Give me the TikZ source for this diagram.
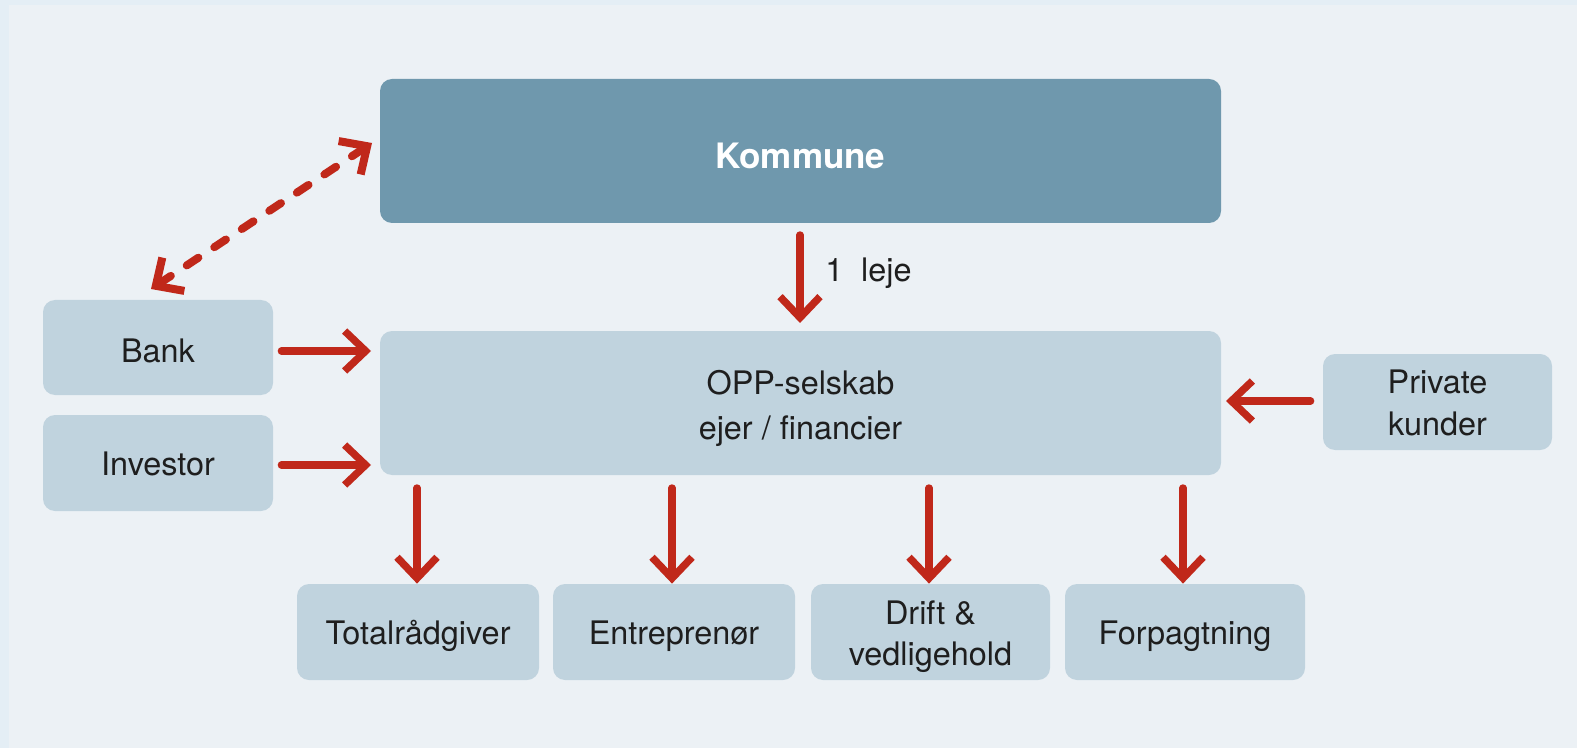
\documentclass[tikz,border=0pt]{standalone}
\usepackage{fontspec}
\setmainfont{TeX Gyre Heros}
\usetikzlibrary{arrows.meta}
\definecolor{bgout}{HTML}{E4EEF5}
\definecolor{bgin}{HTML}{ECF1F5}
\definecolor{dark}{HTML}{6F98AD}
\definecolor{light}{HTML}{C0D3DE}
\definecolor{arr}{HTML}{C0281A}
\definecolor{txt}{HTML}{1E1E1E}
\newcommand{\low}[2]{\raisebox{-#1}[\height][\depth]{#2}}
\tikzset{
  box/.style={fill=light, rounded corners=6pt, inner sep=0pt, text=txt, font=\fontsize{16.2}{21}\selectfont, align=center},
  darkbox/.style={fill=dark, rounded corners=6pt, inner sep=0pt, text=white, font=\fontsize{17.5}{21}\selectfont\bfseries, align=center},
  redarrow/.style={draw=arr, line width=3.7pt, line cap=round, -{Straight Barb[length=10.5pt,width=20pt,line width=3.7pt]}},
  dasharrow/.style={draw=arr, line width=4pt, line cap=round, dash pattern=on 7pt off 9.5pt, {Straight Barb[length=10.5pt,width=20pt,line width=4pt]}-{Straight Barb[length=10.5pt,width=20pt,line width=4pt]}},
}
\newcommand{\bx}[6]{\node[#1, minimum width={(#4-#2)*0.5pt}, minimum height={(#5-#3)*0.5pt}] (#6) at ({(#2+#4)/2*0.5pt},{-(#3+#5)/2*0.5pt})}
\begin{document}
\begin{tikzpicture}[x=0.5pt,y=-0.5pt]
\useasboundingbox (0,0) rectangle (1577,748);
\fill[bgout] (0,0) rectangle (1577,748);
\fill[bgin] (9,5) rectangle (1577,748);
\bx{darkbox}{380}{79}{1221}{223}{kom} {\low{2.5pt}{Kommune}};
\bx{box}{380}{331}{1221}{475}{opp} {\low{2.5pt}{\parbox{10cm}{\centering\fontsize{16.2}{22.5}\selectfont OPP-selskab\\ejer / financier}}};
\bx{box}{43}{300}{273}{395}{bank} {\low{1.5pt}{Bank}};
\bx{box}{43}{415}{273}{511}{inv} {\low{0.5pt}{Investor}};
\bx{box}{1323}{354}{1552}{450}{priv} {\low{0.5pt}{\parbox{4cm}{\centering\fontsize{16.2}{21}\selectfont Private\\kunder}}};
\bx{box}{297}{584}{539}{680}{tot} {\low{2pt}{Totalrådgiver}};
\bx{box}{553}{584}{795}{680}{ent} {\low{2pt}{Entreprenør}};
\bx{box}{811}{584}{1050}{680}{drift} {\low{2.5pt}{\parbox{4cm}{\centering\fontsize{16.2}{20.5}\selectfont Drift \&\\vedligehold}}};
\bx{box}{1065}{584}{1305}{680}{forp} {\low{2pt}{Forpagtning}};
% connectors
\coordinate (k1) at (800,235);
\coordinate (k2) at (800,323);
\draw[redarrow] (k1) -- (k2);
\node[anchor=west, text=txt, font=\fontsize{16.2}{20}\selectfont, inner sep=0pt] (leje) at (825,273) {1\hspace{0.55em}leje};
\coordinate (b2) at (371,351);
\coordinate (i2) at (371,465);
\coordinate (p2) at (1226,401);
\draw[redarrow] ([xshift=4pt]bank.east |- b2) -- (b2);
\draw[redarrow] ([xshift=4pt]inv.east |- i2) -- (i2);
\draw[redarrow] ([xshift=-6pt]priv.west |- p2) -- (p2);
\foreach \n/\x in {tot/417, ent/672, drift/929, forp/1183}{
  \draw[redarrow] (\x,488) -- (\n.north -| \x,575);
}
\draw[dasharrow] (151,289) coordinate (d1) -- (372,143) coordinate (d2);
\end{tikzpicture}
\end{document}
